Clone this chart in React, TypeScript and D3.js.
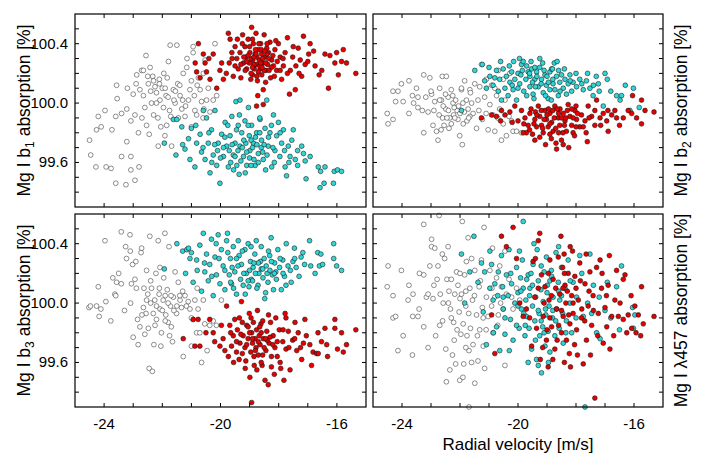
import React from "react";
import * as d3 from "d3";

type Pt = [number, number];

// ---- Mg I b1 ----
const whiteB1: Pt[] = [
  [-24.5, 99.75], [-24.46, 99.65], [-24.28, 99.57], [-24.26, 99.82], [-24.2, 99.91], [-24.1, 99.84],
  [-23.97, 99.95], [-23.93, 99.57], [-23.76, 99.56], [-23.73, 99.82], [-23.6, 99.91], [-23.6, 99.46],
  [-23.57, 100.12], [-23.55, 100.03], [-23.4, 99.64], [-23.4, 99.93], [-23.25, 99.45], [-23.22, 99.74],
  [-23.22, 99.96], [-23.08, 99.88], [-23.08, 99.55], [-23.08, 99.64], [-23.0, 100.06], [-22.94, 99.48],
  [-22.94, 99.92], [-22.9, 100.13], [-22.88, 100.19], [-22.82, 99.8], [-22.8, 99.57], [-22.77, 100.09],
  [-22.71, 100.22], [-22.65, 100.05], [-22.65, 100.22], [-22.56, 100.32], [-22.54, 99.85], [-22.48, 100.13],
  [-22.45, 99.79], [-22.42, 100.24], [-22.37, 100.0], [-22.33, 100.18], [-22.3, 99.92], [-22.25, 100.11],
  [-22.2, 100.07], [-22.14, 99.71], [-22.1, 100.16], [-22.08, 100.02], [-22.05, 99.84], [-22.0, 100.1],
  [-21.96, 99.97], [-21.91, 99.78], [-21.87, 100.05], [-21.83, 100.17], [-21.79, 100.28], [-21.73, 100.39],
  [-21.71, 99.91], [-21.68, 99.71], [-21.62, 100.09], [-21.56, 100.0], [-21.5, 100.39], [-21.47, 100.13],
  [-21.39, 100.05], [-21.33, 99.96], [-21.28, 100.2], [-21.22, 99.91], [-21.16, 100.24], [-21.1, 100.02],
  [-21.05, 100.09], [-21.0, 99.84], [-20.94, 100.38], [-20.94, 100.34], [-20.88, 99.95], [-20.82, 99.92],
  [-20.76, 100.17], [-20.7, 100.09], [-20.65, 100.01], [-20.59, 100.2], [-20.57, 99.96], [-20.53, 100.29],
  [-20.48, 100.02], [-20.42, 100.1], [-20.36, 99.94], [-20.25, 100.02], [-20.19, 100.4], [-20.13, 100.05],
  [-22.2, 100.0], [-21.9, 100.1], [-21.8, 100.04], [-22.1, 100.13], [-21.6, 100.02], [-21.4, 100.12],
  [-22.4, 100.08], [-21.2, 99.98], [-20.9, 100.05], [-21.0, 100.15],
  [-22.6, 99.97], [-22.3, 100.15], [-22.15, 99.9], [-21.95, 100.2], [-21.75, 99.95], [-21.55, 100.08],
  [-21.3, 100.02], [-22.5, 100.18], [-21.85, 99.85], [-21.45, 99.9], [-22.7, 99.9], [-20.8, 100.12],
  [-20.6, 99.9], [-21.15, 100.3], [-23.2, 100.1],
];
const cyanB1: Pt[] = [
  [-21.62, 99.89], [-21.5, 99.89], [-21.93, 99.73], [-21.53, 99.65], [-21.33, 99.84], [-21.22, 99.69],
  [-21.1, 99.76], [-21.05, 99.62], [-21.0, 99.83], [-20.88, 99.57], [-20.82, 99.73], [-20.7, 99.79],
  [-20.65, 99.67], [-20.59, 99.95], [-20.53, 99.62], [-20.48, 99.9], [-20.42, 99.73], [-20.36, 99.53],
  [-20.31, 99.82], [-20.25, 99.65], [-20.19, 99.95], [-20.13, 99.58], [-20.08, 99.73], [-20.02, 99.46],
  [-19.96, 99.79], [-19.9, 99.64], [-19.84, 99.87], [-19.79, 99.71], [-19.73, 99.57], [-19.67, 99.78],
  [-19.61, 99.91], [-19.56, 99.65], [-19.5, 99.73], [-19.47, 100.01], [-19.44, 99.58], [-19.39, 99.85],
  [-19.36, 99.52], [-19.33, 99.71], [-19.27, 99.8], [-19.21, 99.64], [-19.16, 99.88], [-19.13, 99.73],
  [-19.1, 99.58], [-19.04, 99.97], [-19.01, 99.78], [-18.99, 99.68], [-18.93, 99.85], [-18.87, 99.73],
  [-18.81, 99.58], [-18.76, 99.8], [-18.7, 99.66], [-18.64, 99.89], [-18.59, 99.75], [-18.53, 99.62],
  [-18.47, 99.83], [-18.41, 100.02], [-18.36, 99.71], [-18.3, 99.8], [-18.24, 99.57], [-18.18, 99.92],
  [-18.13, 99.68], [-18.07, 99.78], [-18.01, 99.87], [-17.96, 99.64], [-17.9, 99.73], [-17.84, 99.82],
  [-17.78, 99.57], [-17.73, 99.51], [-17.67, 99.71], [-17.61, 99.64], [-17.5, 99.82], [-17.43, 99.62],
  [-17.35, 99.68], [-17.21, 99.71], [-17.09, 99.61], [-17.06, 99.49], [-16.92, 99.64], [-16.64, 99.57],
  [-16.56, 99.54], [-16.41, 99.57], [-16.58, 99.43], [-16.44, 99.46], [-16.12, 99.46], [-16.09, 99.54],
  [-15.98, 99.55], [-15.84, 99.54], [-19.33, 100.02],
  [-19.4, 99.68], [-19.2, 99.75], [-19.0, 99.63], [-18.9, 99.7], [-18.8, 99.77], [-18.7, 99.6],
  [-18.6, 99.7], [-19.3, 99.61], [-19.6, 99.72], [-18.5, 99.72], [-19.1, 99.67], [-18.95, 99.58],
  [-19.5, 99.64], [-18.65, 99.8], [-19.7, 99.68], [-18.4, 99.65], [-19.9, 99.7], [-20.0, 99.63],
  [-18.2, 99.7], [-20.2, 99.72],
  [-20.4, 99.8], [-20.1, 99.68], [-19.85, 99.77], [-19.65, 99.6], [-19.45, 99.82], [-19.25, 99.7],
  [-19.05, 99.85], [-18.85, 99.62], [-18.75, 99.72], [-18.55, 99.67], [-18.35, 99.77], [-18.15, 99.6],
  [-17.95, 99.8], [-17.8, 99.68], [-17.55, 99.75], [-17.35, 99.58], [-19.55, 99.55], [-19.15, 99.53],
  [-18.45, 99.55], [-20.3, 99.6], [-20.6, 99.7], [-19.75, 99.85], [-18.65, 99.9], [-19.35, 99.92],
  [-18.95, 99.75], [-18.25, 99.85], [-17.65, 99.6], [-17.15, 99.66], [-20.85, 99.85], [-21.3, 99.72],
];
const redB1: Pt[] = [
  [-20.76, 100.4], [-20.87, 100.27], [-20.82, 100.21], [-20.7, 100.17], [-20.59, 100.33], [-20.53, 100.27],
  [-20.48, 100.21], [-20.36, 100.16], [-20.25, 100.33], [-20.13, 100.1], [-20.02, 100.22], [-19.96, 100.27],
  [-19.9, 100.16], [-19.73, 100.47], [-19.7, 100.27], [-19.67, 100.43], [-19.61, 100.34], [-19.56, 100.18],
  [-19.5, 100.38], [-19.44, 100.3], [-19.42, 100.43], [-19.39, 100.23], [-19.33, 100.34], [-19.3, 100.17],
  [-19.24, 100.46], [-19.21, 100.27], [-19.16, 100.38], [-19.13, 100.31], [-19.1, 100.23], [-19.05, 100.43],
  [-19.01, 100.27], [-18.99, 100.34], [-18.96, 100.16], [-18.93, 100.51], [-18.89, 100.29], [-18.87, 100.4],
  [-18.84, 100.23], [-18.81, 100.33], [-18.78, 100.47], [-18.76, 100.26], [-18.73, 100.15], [-18.7, 100.36],
  [-18.67, 100.29], [-18.64, 100.23], [-18.62, 100.4], [-18.59, 100.33], [-18.55, 100.27], [-18.53, 100.09],
  [-18.5, 100.46], [-18.47, 100.31], [-18.44, 100.22], [-18.41, 100.37], [-18.38, 100.26], [-18.35, 100.34],
  [-18.3, 100.41], [-18.28, 100.17], [-18.24, 100.29], [-18.18, 100.25], [-18.13, 100.36], [-18.07, 100.22],
  [-18.01, 100.4], [-17.95, 100.31], [-17.9, 100.16], [-17.84, 100.25], [-17.78, 100.34], [-17.7, 100.44],
  [-17.63, 100.06], [-17.6, 100.22], [-17.52, 100.31], [-17.43, 100.09], [-17.41, 100.25], [-17.33, 100.37],
  [-17.26, 100.29], [-17.21, 100.18], [-17.15, 100.45], [-17.09, 100.26], [-16.97, 100.33], [-16.92, 100.4],
  [-16.75, 100.25], [-16.61, 100.19], [-16.52, 100.22], [-16.41, 100.33], [-16.29, 100.1], [-16.24, 100.32],
  [-16.07, 100.27], [-16.01, 100.34], [-15.95, 100.19], [-15.84, 100.28], [-15.78, 100.36], [-15.67, 100.27],
  [-15.35, 100.2], [-18.72, 100.05], [-18.76, 99.98], [-18.53, 99.99],
  [-18.95, 100.3], [-18.85, 100.26], [-18.75, 100.31], [-18.65, 100.25], [-18.55, 100.3], [-18.45, 100.27],
  [-18.9, 100.24], [-18.7, 100.21], [-18.6, 100.36], [-18.8, 100.36], [-19.05, 100.32], [-18.5, 100.22],
  [-18.35, 100.3], [-19.2, 100.31], [-18.25, 100.24], [-18.9, 100.19], [-18.58, 100.19], [-19.15, 100.22],
  [-18.4, 100.33], [-18.68, 100.4],
  [-19.3, 100.26], [-19.0, 100.38], [-18.85, 100.31], [-18.62, 100.27], [-18.48, 100.35], [-18.33, 100.22],
  [-18.2, 100.32], [-18.05, 100.28], [-17.85, 100.3], [-17.7, 100.2], [-19.5, 100.25], [-19.6, 100.3],
  [-19.8, 100.2], [-18.95, 100.2], [-18.75, 100.18], [-18.45, 100.14], [-18.15, 100.18], [-17.95, 100.22],
  [-19.1, 100.28], [-18.57, 100.24], [-18.78, 100.33], [-18.4, 100.4], [-19.25, 100.4], [-18.9, 100.43],
  [-18.1, 100.42], [-17.5, 100.38], [-17.3, 100.2], [-17.0, 100.28], [-16.8, 100.35], [-20.4, 100.3],
];

// ---- Mg I b2 ----
const whiteB2: Pt[] = [
  [-24.51, 99.93], [-24.48, 99.86], [-24.31, 100.08], [-24.31, 99.89], [-24.22, 100.01], [-24.14, 100.08],
  [-24.02, 100.13], [-23.96, 100.01], [-23.76, 100.15], [-23.76, 99.93], [-23.64, 100.05], [-23.6, 100.0],
  [-23.45, 99.97], [-23.45, 100.04], [-23.25, 100.19], [-23.25, 99.8], [-23.18, 100.04], [-23.1, 99.94],
  [-23.04, 100.17], [-22.98, 100.06], [-22.93, 99.85], [-22.87, 100.01], [-22.81, 99.81], [-22.76, 99.75],
  [-22.72, 99.92], [-22.7, 100.1], [-22.64, 100.02], [-22.61, 100.18], [-22.55, 99.85], [-22.49, 99.96],
  [-22.47, 100.18], [-22.41, 100.04], [-22.38, 99.83], [-22.35, 99.9], [-22.3, 100.09], [-22.24, 100.0],
  [-22.22, 99.92], [-22.15, 100.02], [-22.1, 99.95], [-22.07, 99.89], [-22.01, 99.78], [-21.95, 100.09],
  [-21.92, 99.72], [-21.89, 99.86], [-21.84, 100.15], [-21.78, 100.02], [-21.76, 99.88], [-21.72, 99.96],
  [-21.66, 100.09], [-21.64, 100.07], [-21.55, 99.93], [-21.49, 100.13], [-21.43, 99.83], [-21.38, 100.02],
  [-21.32, 100.11], [-21.26, 100.26], [-21.23, 99.89], [-21.15, 100.04], [-21.09, 100.16], [-21.03, 99.82],
  [-20.97, 99.99], [-20.91, 100.12], [-20.86, 99.92], [-20.8, 99.81], [-20.74, 100.05], [-20.68, 100.22],
  [-20.63, 99.96], [-20.57, 99.75], [-20.51, 99.86], [-20.45, 100.02], [-20.4, 99.78], [-20.31, 99.91],
  [-20.22, 99.88], [-20.17, 99.81], [-20.05, 99.81], [-19.88, 99.8], [-20.51, 100.16], [-20.28, 100.2],
  [-20.8, 100.1], [-21.66, 99.91], [-22.18, 99.9], [-22.58, 99.98],
  [-22.2, 99.97], [-22.0, 99.93], [-21.9, 100.0], [-22.4, 99.95], [-22.3, 99.86], [-21.7, 99.9],
  [-22.5, 100.06], [-22.6, 99.9],
  [-22.9, 99.95], [-22.7, 100.02], [-22.45, 99.9], [-22.25, 100.05], [-22.05, 99.98], [-21.85, 99.94],
  [-21.6, 100.0], [-21.35, 99.95], [-23.3, 99.95], [-23.0, 100.08], [-22.65, 99.82], [-21.95, 100.1],
  [-21.1, 99.93], [-20.7, 99.9], [-23.5, 100.1],
];
const cyanB2: Pt[] = [
  [-21.49, 100.22], [-21.95, 99.95], [-21.23, 100.26], [-21.15, 100.15], [-21.09, 100.1], [-20.97, 100.18],
  [-20.86, 100.12], [-20.74, 100.22], [-20.68, 100.08], [-20.63, 100.16], [-20.57, 100.02], [-20.51, 100.23],
  [-20.45, 100.1], [-20.4, 100.18], [-20.34, 100.05], [-20.28, 100.14], [-20.22, 100.21], [-20.17, 100.09],
  [-20.11, 100.16], [-20.05, 100.02], [-20.0, 100.2], [-19.94, 100.13], [-19.88, 100.26], [-19.82, 100.28],
  [-19.8, 100.08], [-19.73, 100.16], [-19.65, 100.21], [-19.59, 100.11], [-19.53, 100.23], [-19.48, 100.06],
  [-19.42, 100.16], [-19.36, 100.21], [-19.3, 100.11], [-19.25, 100.24], [-19.19, 100.16], [-19.13, 100.07],
  [-19.07, 100.19], [-19.02, 100.12], [-18.96, 100.03], [-18.9, 100.21], [-18.84, 100.23], [-18.79, 100.13],
  [-18.73, 100.09], [-18.67, 100.18], [-18.61, 100.05], [-18.56, 100.14], [-18.5, 100.19], [-18.44, 100.1],
  [-18.38, 100.16], [-18.33, 100.06], [-18.27, 100.13], [-18.21, 100.19], [-18.15, 100.08], [-18.1, 100.14],
  [-17.98, 100.11], [-17.87, 100.16], [-17.75, 100.09], [-17.64, 100.15], [-17.52, 100.1], [-17.41, 100.05],
  [-17.23, 100.13], [-17.2, 100.08], [-17.06, 99.98], [-16.92, 100.16], [-16.6, 100.05], [-16.43, 100.05],
  [-16.48, 100.02], [-16.02, 100.1], [-16.14, 99.95], [-15.82, 99.97], [-18.81, 100.23], [-19.42, 100.24],
  [-19.59, 100.18],
  [-19.6, 100.2], [-19.2, 100.13], [-19.0, 100.18], [-18.8, 100.16], [-19.4, 100.11], [-19.7, 100.25],
  [-18.6, 100.22], [-19.9, 100.19], [-20.2, 100.12], [-18.9, 100.09], [-19.5, 100.14], [-19.1, 100.22],
  [-20.6, 100.28], [-20.3, 100.25], [-20.0, 100.1], [-19.85, 100.22], [-19.7, 100.05], [-19.55, 100.28],
  [-19.35, 100.18], [-19.15, 100.27], [-18.95, 100.14], [-18.75, 100.27], [-18.55, 100.08], [-18.4, 100.23],
  [-18.2, 100.15], [-18.0, 100.2], [-17.8, 100.13], [-17.6, 100.2], [-17.4, 100.12], [-17.3, 100.18],
  [-19.45, 100.03], [-19.05, 100.05], [-18.85, 100.02], [-20.15, 100.28], [-19.95, 100.3], [-18.65, 100.28],
  [-19.25, 100.3], [-20.8, 100.17], [-21.0, 100.24], [-16.8, 100.08], [-16.3, 100.12], [-17.0, 100.2],
];
const redB2: Pt[] = [
  [-21.26, 99.9], [-20.91, 99.92], [-20.74, 99.91], [-20.57, 99.95], [-20.45, 99.92], [-20.28, 99.94],
  [-20.11, 99.98], [-20.0, 99.88], [-19.88, 99.95], [-19.76, 99.9], [-19.71, 99.8], [-19.65, 99.85],
  [-19.59, 99.93], [-19.5, 99.79], [-19.42, 99.89], [-19.36, 99.84], [-19.3, 99.98], [-19.25, 99.91],
  [-19.19, 99.85], [-19.13, 99.8], [-19.07, 99.95], [-19.02, 99.89], [-18.96, 99.84], [-18.9, 99.93],
  [-18.84, 99.87], [-18.79, 99.81], [-18.73, 99.98], [-18.69, 99.73], [-18.67, 99.69], [-18.61, 99.9],
  [-18.56, 99.85], [-18.5, 99.75], [-18.44, 99.93], [-18.38, 99.88], [-18.33, 99.81], [-18.27, 99.99],
  [-18.21, 99.91], [-18.15, 99.85], [-18.1, 99.8], [-18.04, 99.95], [-17.98, 99.89], [-17.87, 99.84],
  [-17.81, 99.92], [-17.69, 99.88], [-17.61, 99.74], [-17.58, 99.98], [-17.46, 99.91], [-17.35, 99.85],
  [-17.29, 100.02], [-17.17, 99.9], [-17.06, 99.93], [-16.94, 99.88], [-16.89, 99.81], [-16.77, 99.92],
  [-16.66, 99.95], [-16.6, 99.9], [-16.37, 99.9], [-16.05, 100.05], [-16.08, 99.93], [-15.91, 99.9],
  [-15.74, 100.02], [-15.74, 99.86], [-15.62, 99.95], [-15.31, 99.94], [-19.82, 99.8], [-19.42, 99.75],
  [-18.44, 99.72], [-18.9, 99.79],
  [-19.0, 99.92], [-18.8, 99.95], [-18.6, 99.93], [-18.4, 99.85], [-18.7, 99.83], [-19.2, 99.95],
  [-18.9, 99.86], [-18.5, 99.9], [-18.3, 99.95], [-19.4, 99.94], [-18.1, 99.9], [-18.6, 99.8],
  [-18.0, 99.84], [-19.1, 99.89],
  [-19.8, 99.86], [-19.55, 99.96], [-19.35, 99.92], [-19.15, 99.83], [-18.95, 99.96], [-18.75, 99.9],
  [-18.55, 99.96], [-18.35, 99.9], [-18.15, 99.96], [-17.95, 99.93], [-17.75, 99.84], [-17.55, 99.9],
  [-17.35, 99.95], [-17.15, 99.85], [-19.6, 99.82], [-19.25, 99.77], [-18.85, 99.76], [-18.45, 99.8],
  [-18.05, 99.78], [-17.65, 99.8], [-19.05, 99.72], [-18.25, 99.7], [-16.9, 99.95], [-16.5, 99.85],
  [-16.2, 99.95], [-20.2, 99.87], [-20.6, 99.88], [-18.65, 99.96], [-18.0, 99.98], [-19.45, 99.86],
];

// ---- Mg I b3 ----
const whiteB3: Pt[] = [
  [-24.52, 99.97], [-24.47, 99.98], [-24.26, 99.98], [-24.2, 100.11], [-24.17, 99.91], [-24.11, 99.96],
  [-23.97, 100.42], [-23.94, 100.01], [-23.77, 99.88], [-23.7, 100.17], [-23.63, 100.06], [-23.6, 100.05],
  [-23.57, 100.14], [-23.41, 100.48], [-23.41, 100.13], [-23.26, 100.38], [-23.23, 100.3], [-23.11, 100.46],
  [-23.09, 100.0], [-23.06, 100.13], [-23.02, 100.26], [-23.0, 99.77], [-22.94, 100.16], [-22.91, 100.28],
  [-22.89, 100.1], [-22.85, 99.89], [-22.83, 99.72], [-22.77, 99.84], [-22.73, 100.34], [-22.71, 100.37],
  [-22.65, 99.97], [-22.63, 100.1], [-22.6, 99.79], [-22.56, 99.93], [-22.54, 100.22], [-22.48, 99.83],
  [-22.45, 99.56], [-22.43, 100.45], [-22.37, 100.1], [-22.34, 99.54], [-22.31, 99.93], [-22.29, 99.72],
  [-22.26, 100.02], [-22.22, 100.2], [-22.2, 99.89], [-22.14, 100.42], [-22.11, 100.06], [-22.08, 99.96],
  [-22.05, 99.71], [-22.03, 99.8], [-21.97, 100.02], [-21.95, 100.17], [-21.91, 100.47], [-21.88, 99.92],
  [-21.83, 100.09], [-21.8, 99.87], [-21.77, 100.38], [-21.72, 99.98], [-21.69, 99.84], [-21.65, 99.74],
  [-21.62, 100.04], [-21.56, 100.21], [-21.51, 99.93], [-21.45, 100.14], [-21.39, 100.02], [-21.34, 99.97],
  [-21.28, 99.64], [-21.22, 100.05], [-21.17, 99.98], [-21.11, 100.01], [-21.05, 99.96], [-21.0, 99.71],
  [-20.94, 99.89], [-20.88, 100.02], [-20.82, 99.8], [-20.77, 99.96], [-20.71, 99.8], [-20.65, 99.6],
  [-20.59, 100.02], [-20.54, 99.86], [-20.46, 99.68], [-20.37, 99.85], [-20.25, 99.88], [-20.14, 99.85],
  [-19.97, 100.02], [-22.08, 100.24], [-22.54, 100.02],
  [-22.0, 99.95], [-21.8, 100.0], [-22.2, 99.98], [-21.6, 99.95], [-21.4, 100.05], [-22.4, 100.0],
  [-21.9, 100.05],
  [-22.7, 99.92], [-22.5, 100.06], [-22.25, 99.85], [-22.1, 100.1], [-21.9, 99.88], [-21.7, 100.05],
  [-21.5, 99.98], [-21.3, 100.08], [-22.4, 100.15], [-21.75, 99.78], [-23.3, 99.95], [-23.5, 100.2],
  [-20.8, 100.1], [-21.0, 99.9], [-23.1, 100.35],
];
const cyanB3: Pt[] = [
  [-21.5, 100.4], [-21.93, 100.23], [-21.3, 100.35], [-21.16, 100.36], [-21.1, 100.37], [-21.05, 100.3],
  [-21.0, 100.34], [-20.94, 100.14], [-20.82, 100.29], [-20.71, 100.39], [-20.65, 100.08], [-20.59, 100.47],
  [-20.54, 100.21], [-20.48, 100.33], [-20.42, 100.15], [-20.37, 100.26], [-20.31, 100.43], [-20.25, 100.05],
  [-20.19, 100.31], [-20.14, 100.19], [-20.08, 100.46], [-20.02, 100.13], [-19.97, 100.36], [-19.91, 100.25],
  [-19.85, 100.09], [-19.79, 100.42], [-19.76, 100.47], [-19.7, 100.19], [-19.66, 100.3], [-19.62, 100.13],
  [-19.56, 100.38], [-19.51, 100.21], [-19.45, 100.06], [-19.39, 100.42], [-19.36, 100.32], [-19.31, 100.16],
  [-19.28, 100.26], [-19.22, 100.12], [-19.16, 100.36], [-19.11, 100.2], [-19.05, 100.4], [-19.02, 100.11],
  [-18.97, 100.28], [-18.94, 100.16], [-18.88, 100.24], [-18.82, 100.33], [-18.77, 100.42], [-18.71, 100.12],
  [-18.68, 100.2], [-18.63, 100.28], [-18.6, 100.38], [-18.54, 100.17], [-18.48, 100.03], [-18.43, 100.25],
  [-18.37, 100.14], [-18.31, 100.32], [-18.26, 100.44], [-18.22, 100.19], [-18.18, 100.09], [-18.14, 100.27],
  [-18.08, 100.16], [-18.03, 100.36], [-17.97, 100.24], [-17.91, 100.09], [-17.86, 100.29], [-17.8, 100.18],
  [-17.74, 100.4], [-17.68, 100.25], [-17.57, 100.14], [-17.51, 100.28], [-17.46, 100.37], [-17.4, 100.24],
  [-17.23, 100.31], [-17.17, 100.34], [-17.11, 100.26], [-16.94, 100.42], [-16.66, 100.34], [-16.55, 100.33],
  [-16.6, 100.25], [-16.49, 100.26], [-16.11, 100.4], [-16.11, 100.3], [-16.01, 100.25], [-15.84, 100.22],
  [-19.0, 100.22], [-18.8, 100.2], [-18.6, 100.23], [-19.2, 100.2], [-18.4, 100.2], [-18.9, 100.15],
  [-18.7, 100.27], [-19.4, 100.25], [-18.5, 100.3], [-19.6, 100.24], [-18.3, 100.22], [-18.1, 100.21],
  [-20.3, 100.18], [-20.05, 100.3], [-19.85, 100.22], [-19.65, 100.14], [-19.45, 100.3], [-19.25, 100.35],
  [-19.05, 100.15], [-18.85, 100.27], [-18.75, 100.1], [-18.55, 100.23], [-18.35, 100.35], [-18.15, 100.2],
  [-17.95, 100.3], [-17.75, 100.12], [-17.6, 100.22], [-17.3, 100.18], [-19.55, 100.1], [-19.15, 100.06],
  [-18.45, 100.07], [-20.55, 100.27], [-20.8, 100.22], [-19.75, 100.34], [-18.95, 100.38], [-18.25, 100.28],
  [-17.85, 100.2], [-17.45, 100.3], [-16.9, 100.25], [-16.75, 100.2], [-21.2, 100.2], [-20.15, 100.4],
];
const redB3: Pt[] = [
  [-21.28, 99.76], [-20.94, 99.89], [-20.88, 99.71], [-20.77, 99.89], [-20.71, 99.71], [-20.37, 99.89],
  [-20.25, 99.8], [-20.02, 99.71], [-19.97, 99.85], [-19.91, 99.76], [-19.79, 99.98], [-19.73, 99.64],
  [-19.68, 99.85], [-19.62, 99.71], [-19.56, 99.78], [-19.51, 99.89], [-19.45, 99.67], [-19.42, 99.82],
  [-19.36, 99.62], [-19.33, 99.73], [-19.28, 100.01], [-19.25, 99.87], [-19.22, 99.78], [-19.16, 99.7],
  [-19.13, 99.61], [-19.1, 99.85], [-19.05, 99.76], [-19.01, 99.93], [-18.99, 99.5], [-18.96, 99.67],
  [-18.93, 99.8], [-18.9, 99.73], [-18.87, 99.87], [-18.84, 99.58], [-18.81, 99.76], [-18.78, 99.7],
  [-18.76, 99.82], [-18.73, 99.95], [-18.7, 99.65], [-18.67, 99.78], [-18.64, 99.72], [-18.61, 99.86],
  [-18.57, 99.58], [-18.53, 99.76], [-18.47, 99.48], [-18.44, 99.68], [-18.41, 99.81], [-18.36, 99.45],
  [-18.33, 99.73], [-18.28, 99.87], [-18.25, 99.57], [-18.19, 99.78], [-18.13, 99.7], [-18.1, 99.9],
  [-18.05, 99.64], [-17.98, 99.82], [-17.93, 99.56], [-17.86, 99.74], [-17.82, 99.48], [-17.78, 99.93],
  [-17.75, 99.69], [-17.67, 99.81], [-17.61, 99.55], [-17.52, 99.75], [-17.44, 99.87], [-17.38, 99.68],
  [-17.33, 99.8], [-17.21, 99.62], [-17.15, 99.73], [-17.1, 99.89], [-16.93, 99.72], [-16.87, 99.58],
  [-16.82, 99.67], [-16.7, 99.66], [-16.64, 99.66], [-16.53, 99.74], [-16.41, 99.83], [-16.32, 99.64],
  [-16.07, 99.89], [-16.07, 99.83], [-15.98, 99.69], [-15.84, 99.8], [-15.78, 99.67], [-15.67, 99.72],
  [-15.35, 99.82], [-18.93, 99.33],
  [-18.9, 99.76], [-18.7, 99.74], [-18.5, 99.7], [-18.3, 99.77], [-19.1, 99.72], [-18.6, 99.8],
  [-18.8, 99.68], [-19.3, 99.79], [-18.4, 99.75], [-18.2, 99.72], [-19.0, 99.8], [-18.55, 99.65],
  [-20.2, 99.74], [-19.85, 99.68], [-19.65, 99.8], [-19.45, 99.74], [-19.25, 99.66], [-19.05, 99.84],
  [-18.85, 99.64], [-18.65, 99.84], [-18.45, 99.76], [-18.25, 99.64], [-18.05, 99.74], [-17.85, 99.82],
  [-17.65, 99.7], [-17.45, 99.76], [-17.25, 99.7], [-19.35, 99.9], [-18.95, 99.9], [-18.35, 99.92],
  [-17.95, 99.6], [-18.75, 99.55], [-19.15, 99.56], [-18.15, 99.52], [-17.05, 99.78], [-16.65, 99.8],
  [-16.35, 99.72], [-20.5, 99.8], [-19.55, 99.6], [-18.55, 99.88], [-17.75, 99.9], [-18.6, 99.6],
];

// ---- Mg I λ457 ----
const white457: Pt[] = [
  [-24.51, 100.11], [-24.48, 100.25], [-24.31, 100.05], [-24.31, 99.9], [-24.22, 99.91], [-24.14, 99.68],
  [-24.02, 100.22], [-23.96, 99.78], [-23.79, 100.02], [-23.76, 100.12], [-23.63, 99.91], [-23.64, 99.65],
  [-23.62, 100.06], [-23.45, 99.91], [-23.41, 99.96], [-23.25, 100.53], [-23.25, 100.19], [-23.25, 99.84],
  [-23.16, 100.04], [-23.1, 100.06], [-23.04, 100.25], [-22.98, 100.43], [-22.98, 100.38], [-22.93, 100.03],
  [-22.87, 100.37], [-22.84, 99.78], [-22.79, 100.16], [-22.76, 100.25], [-22.72, 100.59], [-22.7, 99.85],
  [-22.68, 100.06], [-22.61, 100.33], [-22.58, 100.0], [-22.53, 100.3], [-22.49, 99.69], [-22.47, 99.47],
  [-22.45, 100.16], [-22.41, 100.38], [-22.38, 100.08], [-22.35, 99.55], [-22.33, 99.96], [-22.3, 100.16],
  [-22.26, 99.65], [-22.22, 99.87], [-22.18, 100.06], [-22.15, 99.59], [-22.12, 100.21], [-22.1, 99.82],
  [-22.07, 100.12], [-22.03, 99.94], [-22.01, 99.48], [-21.97, 99.79], [-21.95, 100.06], [-21.92, 100.55],
  [-21.89, 99.86], [-21.87, 99.59], [-21.84, 100.19], [-21.8, 99.98], [-21.78, 100.28], [-21.76, 99.78],
  [-21.72, 100.44], [-21.69, 99.68], [-21.66, 100.1], [-21.64, 99.83], [-21.6, 99.6], [-21.57, 100.02],
  [-21.55, 99.72], [-21.49, 99.46], [-21.49, 100.22], [-21.43, 99.92], [-21.38, 99.61], [-21.34, 100.11],
  [-21.32, 99.82], [-21.26, 100.29], [-21.23, 99.97], [-21.2, 99.71], [-21.17, 100.51], [-21.15, 99.56],
  [-21.09, 100.04], [-21.03, 99.91], [-20.97, 100.22], [-20.91, 99.98], [-20.88, 100.37], [-20.86, 99.8],
  [-20.8, 100.04], [-20.74, 100.17], [-20.68, 99.92], [-20.63, 100.25], [-20.57, 100.11], [-20.51, 99.96],
  [-20.45, 99.58], [-20.4, 100.06], [-20.31, 100.16], [-20.22, 100.04], [-20.17, 99.96], [-20.05, 100.1],
  [-19.94, 100.02], [-21.69, 99.3], [-20.45, 100.35],
  [-22.0, 100.03], [-21.7, 99.93], [-22.3, 99.9], [-21.5, 100.05], [-21.2, 99.9], [-20.9, 100.1],
  [-21.8, 100.08],
  [-22.4, 100.0], [-22.2, 99.75], [-22.0, 100.2], [-21.8, 99.7], [-21.6, 100.3], [-21.4, 99.78],
  [-21.3, 100.15], [-21.1, 99.82], [-22.6, 99.88], [-22.9, 100.12], [-23.4, 100.2], [-23.1, 99.7],
  [-20.7, 99.85], [-20.6, 100.0], [-21.9, 99.5],
];
const cyan457: Pt[] = [
  [-19.82, 100.55], [-21.95, 100.33], [-21.66, 100.21], [-21.52, 100.45], [-21.38, 100.14], [-21.26, 100.27],
  [-21.2, 99.94], [-21.15, 100.21], [-21.09, 99.72], [-20.97, 100.1], [-20.97, 100.35], [-20.91, 100.26],
  [-20.86, 100.02], [-20.8, 100.13], [-20.74, 99.84], [-20.68, 100.21], [-20.63, 99.68], [-20.57, 100.32],
  [-20.53, 100.11], [-20.51, 99.96], [-20.45, 99.79], [-20.4, 100.19], [-20.34, 100.05], [-20.31, 100.36],
  [-20.26, 99.89], [-20.22, 100.13], [-20.17, 99.75], [-20.11, 100.0], [-20.05, 100.24], [-20.0, 100.07],
  [-19.96, 99.83], [-19.91, 100.17], [-19.88, 99.96], [-19.85, 100.29], [-19.82, 100.1], [-19.76, 99.78],
  [-19.73, 100.02], [-19.71, 99.91], [-19.65, 100.19], [-19.62, 99.83], [-19.59, 100.1], [-19.53, 99.69],
  [-19.5, 99.98], [-19.48, 100.26], [-19.42, 99.88], [-19.39, 100.04], [-19.36, 99.62], [-19.34, 100.36],
  [-19.3, 100.15], [-19.27, 99.93], [-19.25, 99.78], [-19.21, 100.09], [-19.19, 99.53], [-19.15, 99.84],
  [-19.13, 100.01], [-19.1, 100.21], [-19.07, 99.71], [-19.04, 99.92], [-19.02, 100.31], [-18.99, 100.12],
  [-18.96, 99.81], [-18.93, 99.98], [-18.9, 99.67], [-18.84, 100.18], [-18.81, 99.9], [-18.79, 100.04],
  [-18.73, 99.78], [-18.69, 100.34], [-18.67, 99.96], [-18.61, 100.14], [-18.58, 99.83], [-18.56, 100.02],
  [-18.5, 100.24], [-18.46, 99.93], [-18.44, 99.73], [-18.38, 100.1], [-18.33, 99.88], [-18.27, 100.29],
  [-18.21, 100.0], [-18.15, 99.8], [-18.1, 100.14], [-17.98, 100.04], [-17.87, 100.32], [-17.75, 99.91],
  [-17.69, 99.3], [-17.52, 100.33], [-17.46, 99.93], [-17.29, 99.8], [-17.2, 100.04], [-17.17, 99.76],
  [-16.92, 100.14], [-16.6, 100.11], [-16.43, 100.25], [-16.05, 99.97], [-16.02, 99.83], [-15.97, 99.92],
  [-21.84, 100.0], [-20.51, 100.04],
  [-19.6, 100.05], [-19.3, 99.95], [-19.0, 100.07], [-18.8, 99.95], [-19.5, 100.12], [-19.8, 99.93],
  [-18.6, 100.08], [-19.2, 99.88], [-20.0, 99.98], [-18.9, 100.15], [-19.7, 100.16], [-19.1, 99.8],
  [-20.7, 100.05], [-20.45, 99.9], [-20.25, 100.2], [-20.05, 99.85], [-19.9, 100.08], [-19.75, 99.85],
  [-19.55, 100.2], [-19.4, 99.75], [-19.2, 100.25], [-19.05, 99.96], [-18.85, 100.22], [-18.7, 99.88],
  [-18.5, 100.05], [-18.35, 99.8], [-18.2, 100.15], [-18.0, 99.9], [-17.8, 100.2], [-17.6, 100.0],
  [-17.4, 100.12], [-17.0, 99.95], [-19.65, 99.6], [-19.3, 99.58], [-18.95, 99.6], [-20.3, 99.68],
  [-20.85, 99.8], [-19.95, 100.35], [-19.45, 100.4], [-18.6, 100.38], [-16.8, 99.9], [-16.5, 99.82],
];
const red457: Pt[] = [
  [-20.17, 100.51], [-20.57, 100.45], [-20.91, 99.92], [-20.8, 99.66], [-20.4, 100.38], [-20.05, 100.3],
  [-19.94, 100.0], [-19.82, 99.91], [-19.71, 99.96], [-19.53, 99.71], [-19.48, 100.28], [-19.42, 100.04],
  [-19.36, 99.83], [-19.3, 100.42], [-19.25, 100.47], [-19.23, 99.62], [-19.19, 100.19], [-19.13, 99.91],
  [-19.07, 100.11], [-19.02, 99.75], [-18.96, 99.57], [-18.93, 100.02], [-18.9, 100.29], [-18.84, 99.84],
  [-18.79, 100.16], [-18.73, 99.69], [-18.67, 99.96], [-18.61, 100.31], [-18.56, 100.06], [-18.52, 100.45],
  [-18.5, 99.8], [-18.46, 100.24], [-18.44, 99.91], [-18.41, 100.33], [-18.38, 100.12], [-18.35, 100.0],
  [-18.33, 99.75], [-18.27, 100.2], [-18.23, 99.66], [-18.21, 99.86], [-18.19, 99.57], [-18.15, 100.05],
  [-18.12, 100.35], [-18.1, 99.93], [-18.04, 100.18], [-17.98, 99.82], [-17.92, 100.02], [-17.87, 100.27],
  [-17.81, 99.9], [-17.75, 99.59], [-17.69, 100.13], [-17.64, 99.75], [-17.58, 99.98], [-17.52, 100.21],
  [-17.46, 99.85], [-17.41, 100.05], [-17.35, 99.36], [-17.29, 100.24], [-17.23, 99.93], [-17.17, 100.29],
  [-17.12, 100.1], [-17.06, 99.73], [-17.0, 99.97], [-16.94, 99.84], [-16.89, 100.12], [-16.83, 99.69],
  [-16.77, 99.91], [-16.66, 100.02], [-16.54, 99.91], [-16.48, 100.0], [-16.37, 99.89], [-16.31, 100.19],
  [-16.2, 99.92], [-16.08, 99.83], [-15.97, 99.98], [-15.93, 99.8], [-15.77, 99.78], [-15.68, 99.86],
  [-15.31, 99.91], [-15.74, 100.11], [-16.37, 100.16],
  [-18.7, 100.1], [-18.5, 99.95], [-18.3, 100.08], [-18.9, 99.9], [-18.1, 100.0], [-18.6, 99.85],
  [-18.0, 100.1], [-19.1, 100.0], [-18.4, 100.2], [-17.8, 99.96],
  [-19.6, 99.9], [-19.3, 100.1], [-19.0, 99.82], [-18.85, 100.05], [-18.65, 99.75], [-18.45, 100.1],
  [-18.25, 99.92], [-18.05, 99.72], [-17.85, 100.15], [-17.7, 99.88], [-17.55, 100.08], [-17.4, 99.95],
  [-17.25, 99.78], [-17.1, 100.2], [-16.95, 100.05], [-16.7, 99.78], [-16.6, 100.22], [-16.25, 99.8],
  [-16.1, 100.05], [-15.85, 99.92], [-18.8, 99.62], [-18.4, 99.6], [-17.95, 99.65], [-19.4, 100.3],
  [-18.2, 100.38], [-17.65, 100.33], [-19.15, 99.7], [-17.5, 99.65], [-16.85, 100.32], [-18.95, 100.2],
];

const xDomain: [number, number] = [-25, -15];
const yDomain: [number, number] = [99.3, 100.6];
const xMinorTicks = d3.range(-24, -15);
const yMinorTicks = d3.range(994, 1006).map((v) => v / 10);
const xLabelTicks = [-24, -20, -16];
const yLabelTicks = [99.6, 100.0, 100.4];

const FONT = "'Liberation Sans', Arial, Helvetica, sans-serif";
const RED = "#e60000";
const CYAN = "#2ed6d6";

const Title = ({ name, sub }: { name: string; sub?: string }) => (
  <>
    {name}
    {sub && (
      <tspan dy={4} fontSize={12}>
        {sub}
      </tspan>
    )}
    <tspan dy={sub ? -4 : 0}> absorption [%]</tspan>
  </>
);

function Panel({
  left, top, width, height, white, cyan, red, showX, showY, name, sub, titleRight,
}: any) {
  const x = d3.scaleLinear().domain(xDomain).range([left, left + width]);
  const y = d3.scaleLinear().domain(yDomain).range([top + height, top]);
  const t = 4;
  const dot = (d: Pt, i: number, fill: string, stroke: string) => (
    <circle key={i} cx={x(d[0])} cy={y(d[1])} r={2.4} fill={fill} stroke={stroke} strokeWidth={0.55} />
  );
  const cy = top + height / 2;
  const titleX = titleRight ? left + width + 24 : left - 45;
  return (
    <g>
      <g>{white.map((d: Pt, i: number) => dot(d, i, "#ffffff", "#333333"))}</g>
      <g>{cyan.map((d: Pt, i: number) => dot(d, i, CYAN, "#111111"))}</g>
      <g>{red.map((d: Pt, i: number) => dot(d, i, RED, "#111111"))}</g>
      <rect x={left} y={top} width={width} height={height} fill="none" stroke="#000" strokeWidth={1.2} />
      {xMinorTicks.map((v) => (
        <g key={"x" + v} stroke="#000" strokeWidth={1}>
          <line x1={x(v)} x2={x(v)} y1={top + height} y2={top + height - t} />
          <line x1={x(v)} x2={x(v)} y1={top} y2={top + t} />
        </g>
      ))}
      {yMinorTicks.map((v) => (
        <g key={"y" + v} stroke="#000" strokeWidth={1}>
          <line x1={left} x2={left + t} y1={y(v)} y2={y(v)} />
          <line x1={left + width} x2={left + width - t} y1={y(v)} y2={y(v)} />
        </g>
      ))}
      {showX &&
        xLabelTicks.map((v) => (
          <text key={"xl" + v} x={x(v)} y={top + height + 22} textAnchor="middle" fontSize={15} fontFamily={FONT}>
            {v}
          </text>
        ))}
      {showY &&
        yLabelTicks.map((v) => (
          <text key={"yl" + v} x={left - 7} y={y(v) + 5} textAnchor="end" fontSize={15} fontFamily={FONT}>
            {v.toFixed(1)}
          </text>
        ))}
      <text transform={`translate(${titleX},${cy}) rotate(-90)`} textAnchor="middle" fontSize={17.5} fontFamily={FONT}>
        <Title name={name} sub={sub} />
      </text>
    </g>
  );
}

export default function App() {
  const L = { left: 75, width: 291 };
  const R = { left: 373, width: 290 };
  const T = { top: 14, height: 193 };
  const B = { top: 214, height: 193 };
  return (
    <svg width={703} height={453} style={{ position: "fixed", left: 0, top: 0, background: "#fff" }}>
      <rect width={703} height={453} fill="#fff" />
      <Panel {...L} {...T} white={whiteB1} cyan={cyanB1} red={redB1} showY name="Mg I b" sub="1" />
      <Panel {...R} {...T} white={whiteB2} cyan={cyanB2} red={redB2} name="Mg I b" sub="2" titleRight />
      <Panel {...L} {...B} white={whiteB3} cyan={cyanB3} red={redB3} showX showY name="Mg I b" sub="3" />
      <Panel {...R} {...B} white={white457} cyan={cyan457} red={red457} showX name="Mg I λ457" titleRight />
      <text x={518} y={450} textAnchor="middle" fontSize={17} fontFamily={FONT}>
        Radial velocity [m/s]
      </text>
    </svg>
  );
}
